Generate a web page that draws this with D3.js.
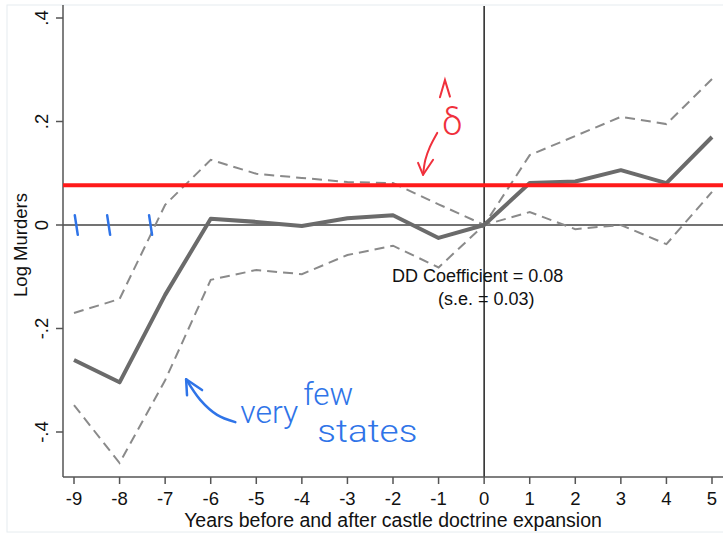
<!DOCTYPE html>
<html>
<head>
<meta charset="utf-8">
<script src="https://cdn.jsdelivr.net/npm/d3@7"></script>
<style>
  body { margin: 0; background: #fff; }
  svg { display: block; font-family: "Liberation Sans", Arial, Helvetica, sans-serif; }
</style>
</head>
<body>
<div id="chart"></div>
<script>
// event-study estimates (log murders)
const years = [-9, -8, -7, -6, -5, -4, -3, -2, -1, 0, 1, 2, 3, 4, 5];
const estimate = [-0.261, -0.304, -0.135, 0.012, 0.006, -0.002, 0.013, 0.019, -0.025, 0, 0.081, 0.084, 0.106, 0.081, 0.170];
const upperCI = [-0.170, -0.143, 0.039, 0.126, 0.099, 0.091, 0.083, 0.081, 0.040, 0, 0.135, 0.172, 0.209, 0.195, 0.282];
const lowerCI = [-0.348, -0.460, -0.300, -0.106, -0.087, -0.095, -0.058, -0.040, -0.082, 0, 0.025, -0.008, 0, -0.037, 0.064];
const yTicks = [-0.4, -0.2, 0, 0.2, 0.4];
const yTickLabels = ["-.4", "-.2", "0", ".2", ".4"];
const deltaHat = 0.077;
const ddText = ["DD Coefficient = 0.08", "(s.e. = 0.03)"];
const fewStateTicks = [-8.95, -8.24, -7.32];

function init() {
    const w = 723, h = 534;
    const left = 63, top = 5, bottom = 477;

    const x = d3.scaleLinear().domain([-9, 5]).range([74, 712]);
    const y = d3.scaleLinear().domain([-0.4, 0.4]).range([432, 18]);

    const svg = d3.select("#chart").append("svg")
        .attr("width", w)
        .attr("height", h)
        .attr("viewBox", [0, 0, w, h]);

    // faint outer frame
    svg.append("rect")
        .attr("x", 7).attr("y", 5)
        .attr("width", w).attr("height", 527)
        .attr("fill", "none")
        .attr("stroke", "#e6ecef");

    // zero lines
    svg.append("line")
        .attr("x1", left).attr("x2", w)
        .attr("y1", y(0)).attr("y2", y(0))
        .attr("stroke", "#444").attr("stroke-width", 1.5);
    svg.append("line")
        .attr("x1", x(0)).attr("x2", x(0))
        .attr("y1", top + 1).attr("y2", bottom)
        .attr("stroke", "#222").attr("stroke-width", 1.5);

    // y axis
    const yAxis = svg.append("g")
        .attr("transform", `translate(${left},0)`);
    yAxis.append("line")
        .attr("x1", 0).attr("x2", 0)
        .attr("y1", top).attr("y2", bottom)
        .attr("stroke", "#555").attr("stroke-width", 1.5);
    yAxis.selectAll("line.tick")
        .data(yTicks)
        .join("line")
        .attr("class", "tick")
        .attr("x1", -7).attr("x2", 0)
        .attr("y1", d => y(d)).attr("y2", d => y(d))
        .attr("stroke", "#555").attr("stroke-width", 1.5);
    yAxis.selectAll("text")
        .data(yTicks)
        .join("text")
        .attr("transform", d => `translate(-15,${y(d)}) rotate(-90)`)
        .attr("text-anchor", "middle")
        .attr("font-size", 18.5)
        .attr("fill", "#111")
        .text((d, i) => yTickLabels[i]);

    svg.append("text")
        .attr("transform", `translate(27,${(top + bottom) / 2 + 4}) rotate(-90)`)
        .attr("text-anchor", "middle")
        .attr("font-size", 18.5)
        .attr("fill", "#111")
        .text("Log Murders");

    // x axis
    const xAxis = svg.append("g")
        .attr("transform", `translate(0,${bottom})`);
    xAxis.append("line")
        .attr("x1", left).attr("x2", w)
        .attr("y1", 0).attr("y2", 0)
        .attr("stroke", "#555").attr("stroke-width", 1.5);
    xAxis.selectAll("line.tick")
        .data(years)
        .join("line")
        .attr("class", "tick")
        .attr("x1", d => x(d)).attr("x2", d => x(d))
        .attr("y1", 0).attr("y2", 7)
        .attr("stroke", "#555").attr("stroke-width", 1.5);
    xAxis.selectAll("text")
        .data(years)
        .join("text")
        .attr("x", d => x(d))
        .attr("y", 28)
        .attr("text-anchor", "middle")
        .attr("font-size", 18.5)
        .attr("fill", "#111")
        .text(d => d);

    svg.append("text")
        .attr("x", (left + w) / 2)
        .attr("y", 527)
        .attr("text-anchor", "middle")
        .attr("font-size", 19.5)
        .attr("fill", "#111")
        .text("Years before and after castle doctrine expansion");

    // confidence bands and estimate
    const line = d3.line().x((d, i) => x(years[i])).y(d => y(d));
    [upperCI, lowerCI].forEach(s => {
        svg.append("path")
            .attr("d", line(s))
            .attr("fill", "none")
            .attr("stroke", "#8a8a8a")
            .attr("stroke-width", 2)
            .attr("stroke-dasharray", "10,6");
    });
    svg.append("path")
        .attr("d", line(estimate))
        .attr("fill", "none")
        .attr("stroke", "#6b6b6b")
        .attr("stroke-width", 4)
        .attr("stroke-linejoin", "round");

    // DD coefficient text
    svg.append("text")
        .attr("x", 392).attr("y", 282)
        .attr("font-size", 18).attr("fill", "#111")
        .text(ddText[0]);
    svg.append("text")
        .attr("x", 438).attr("y", 305)
        .attr("font-size", 18).attr("fill", "#111")
        .text(ddText[1]);

    // red delta-hat line
    svg.append("line")
        .attr("x1", left).attr("x2", w)
        .attr("y1", y(deltaHat)).attr("y2", y(deltaHat))
        .attr("stroke", "#ff1a1a").attr("stroke-width", 4);

    // hand annotations
    const red = "#f0303c", blue = "#2f74e8";
    const pen = d3.line().curve(d3.curveCatmullRom).x(d => x(d[0])).y(d => y(d[1]));

    svg.append("text")
        .attr("x", x(-0.92)).attr("y", y(0.174))
        .attr("font-size", 36).attr("font-weight", 300)
        .attr("font-family", "Roboto, 'Open Sans', sans-serif")
        .attr("fill", red)
        .text("δ");
    svg.append("path")
        .attr("d", d3.line().x(d => x(d[0])).y(d => y(d[1]))([[-0.97, 0.247], [-0.86, 0.280], [-0.75, 0.248]]))
        .attr("fill", "none").attr("stroke", red).attr("stroke-width", 2).attr("stroke-linecap", "round");
    svg.append("path")
        .attr("d", pen([[-1.03, 0.178], [-1.19, 0.151], [-1.29, 0.126], [-1.34, 0.097]]))
        .attr("fill", "none").attr("stroke", red).attr("stroke-width", 2).attr("stroke-linecap", "round");
    svg.append("path")
        .attr("d", d3.line().x(d => x(d[0])).y(d => y(d[1]))([[-1.45, 0.120], [-1.34, 0.097], [-1.12, 0.126]]))
        .attr("fill", "none").attr("stroke", red).attr("stroke-width", 2)
        .attr("stroke-linecap", "round").attr("stroke-linejoin", "round");

    // blue marks on zero line
    svg.selectAll("line.few")
        .data(fewStateTicks)
        .join("line")
        .attr("class", "few")
        .attr("x1", d => x(d) - 1.5).attr("x2", d => x(d) + 1.5)
        .attr("y1", y(0.019)).attr("y2", y(-0.019))
        .attr("stroke", blue).attr("stroke-width", 2.5).attr("stroke-linecap", "round");

    const hand = [["very", -5.35, -0.383, 58], ["few", -3.97, -0.348, 50], ["states", -3.66, -0.420, 100]];
    svg.selectAll("text.hand")
        .data(hand)
        .join("text")
        .attr("class", "hand")
        .attr("x", d => x(d[1])).attr("y", d => y(d[2]))
        .attr("textLength", d => d[3])
        .attr("lengthAdjust", "spacingAndGlyphs")
        .attr("font-size", 31).attr("font-weight", 300)
        .attr("font-family", "Roboto, 'Open Sans', sans-serif")
        .attr("fill", blue)
        .text(d => d[0]);

    svg.append("path")
        .attr("d", pen([[-5.46, -0.381], [-5.86, -0.367], [-6.23, -0.338], [-6.54, -0.298]]))
        .attr("fill", "none").attr("stroke", blue).attr("stroke-width", 2.5).attr("stroke-linecap", "round");
    svg.append("path")
        .attr("d", d3.line().x(d => x(d[0])).y(d => y(d[1]))([[-6.52, -0.329], [-6.54, -0.298], [-6.19, -0.319]]))
        .attr("fill", "none").attr("stroke", blue).attr("stroke-width", 2.5)
        .attr("stroke-linecap", "round").attr("stroke-linejoin", "round");
}

window.onload = init;
</script>
</body>
</html>
